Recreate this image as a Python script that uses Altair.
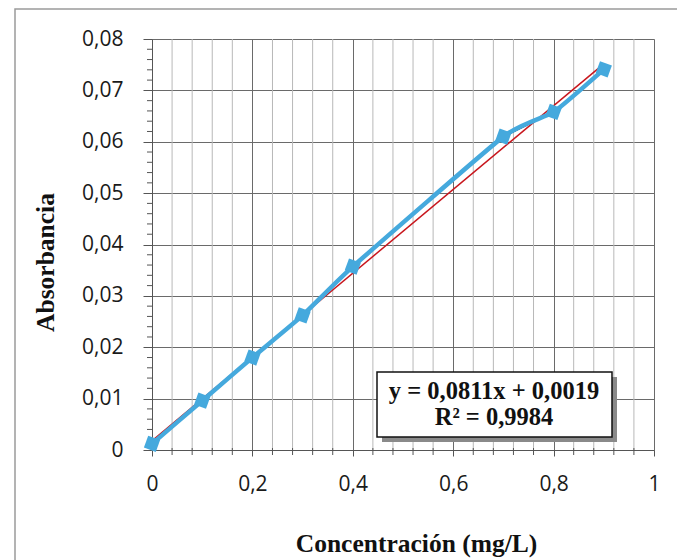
import altair as alt
import pandas as pd

# ---- data ----
conc = [0.0, 0.1, 0.2, 0.3, 0.4, 0.7, 0.8, 0.9]
absorb = [0.0012, 0.0096, 0.0180, 0.0262, 0.0357, 0.0610, 0.0658, 0.0741]

x_major = [0, 0.2, 0.4, 0.6, 0.8, 1.0]
x_minor = [0.04, 0.08, 0.12, 0.16, 0.24, 0.28, 0.32, 0.36, 0.44, 0.48, 0.52, 0.56,
           0.64, 0.68, 0.72, 0.76, 0.84, 0.88, 0.92, 0.96]
y_major = [0, 0.01, 0.02, 0.03, 0.04, 0.05, 0.06, 0.07, 0.08]
y_minor = [0.002, 0.004, 0.006, 0.008, 0.012, 0.014, 0.016, 0.018, 0.022, 0.024, 0.026, 0.028,
           0.032, 0.034, 0.036, 0.038, 0.042, 0.044, 0.046, 0.048, 0.052, 0.054, 0.056, 0.058,
           0.062, 0.064, 0.066, 0.068, 0.072, 0.074, 0.076, 0.078]
eq_lines = ["y = 0,0811x + 0,0019", "R² = 0,9984"]
x_title = "Concentración (mg/L)"
y_title = "Absorbancia"

W, H = 502, 411
BLUE = "#45A9DD"

df = pd.DataFrame({"conc": conc, "abs": absorb})
xs = alt.Scale(domain=[0, 1], nice=False, zero=False)
ys = alt.Scale(domain=[0, 0.08], nice=False)

lab_font = "Open Sans"
title_font = "Liberation Serif"

x_axis = alt.Axis(values=x_major, grid=True, gridColor="#6a6a6a", gridWidth=1,
                  domainColor="#555", tickColor="#555", tickSize=6, labelFlush=False,
                  labelExpr="replace(format(datum.value, '.1~f'), '.', ',')",
                  labelFont=lab_font, labelFontSize=21, labelColor="#1a1a1a", labelPadding=17,
                  title=x_title, titleFont=title_font, titleFontSize=25.5, titleFontWeight="bold",
                  titleColor="#111", titleX=264, titleY=93, titleBaseline="middle",
                  titleAlign="center")
y_axis = alt.Axis(values=y_major, grid=True, gridColor="#6a6a6a", gridWidth=1,
                  domainColor="#555", tickColor="#555", tickSize=9, labelFlush=False,
                  labelExpr="datum.value == 0 ? '0' : replace(format(datum.value, '.2f'), '.', ',')",
                  labelFont=lab_font, labelFontSize=21, labelColor="#1a1a1a", labelPadding=20,
                  title=y_title, titleFont=title_font, titleFontSize=25.5, titleFontWeight="bold",
                  titleColor="#111", titleX=-107, titleY=223, titleBaseline="middle",
                  titleAlign="center", titleAngle=270)


def X(field):
    return alt.X(field, scale=xs, axis=x_axis)


def Y(field):
    return alt.Y(field, scale=ys, axis=y_axis)


one = pd.DataFrame({"a": [0]})

# outer chart border
border = alt.Chart(one).mark_rect(
    fill=None, stroke="#9a9a9a", strokeWidth=1.5
).encode(x=alt.value(15 - 152), x2=alt.value(W + 40), y=alt.value(9 - 39), y2=alt.value(H + 140))

minor_grid = alt.Chart(pd.DataFrame({"conc": x_minor})).mark_rule(
    color="#b8b8b8", strokeWidth=1
).encode(x=X("conc:Q"))

minor_xticks = alt.Chart(pd.DataFrame({"conc": x_minor})).mark_rule(
    color="#555", strokeWidth=1
).encode(x=X("conc:Q"), y=alt.value(H - 2), y2=alt.value(H + 5))

minor_yticks = alt.Chart(pd.DataFrame({"abs": y_minor})).mark_rule(
    color="#555", strokeWidth=1
).encode(y=Y("abs:Q"), x=alt.value(-5), x2=alt.value(0))

black_line = alt.Chart(df).mark_line(color="#222", strokeWidth=1.5).encode(
    x=X("conc:Q"), y=Y("abs:Q"))

blue_line = alt.Chart(df).mark_line(
    color=BLUE, strokeWidth=4.5, interpolate="cardinal", tension=0.5
).encode(x=X("conc:Q"), y=Y("abs:Q"))

trend = alt.Chart(df).transform_regression(
    "conc", "abs", method="linear", extent=[0, 0.9]
).mark_line(color="#C8161D", strokeWidth=1.5).encode(x=X("conc:Q"), y=Y("abs:Q"))

points = alt.Chart(df).mark_point(
    shape="square", filled=True, size=160, color=BLUE, opacity=1, angle=20
).encode(x=X("conc:Q"), y=Y("abs:Q"))

shadow = alt.Chart(one).mark_rect(fill="#8a8a8a").encode(
    x=alt.value(230), x2=alt.value(465), y=alt.value(338), y2=alt.value(403))
box = alt.Chart(one).mark_rect(fill="white", stroke="#111", strokeWidth=1.5).encode(
    x=alt.value(225), x2=alt.value(460), y=alt.value(333), y2=alt.value(398))

eq_style = dict(font=title_font, fontSize=24.5, fontWeight="bold", color="#111",
                align="center", baseline="middle")
eq1 = alt.Chart(one).mark_text(text=eq_lines[0], **eq_style).encode(
    x=alt.value(342), y=alt.value(353))
eq2 = alt.Chart(one).mark_text(text=eq_lines[1], **eq_style).encode(
    x=alt.value(342), y=alt.value(378.5))

chart = alt.layer(
    border, minor_grid, minor_xticks, minor_yticks, black_line, trend, blue_line, points,
    shadow, box, eq1, eq2
).properties(
    width=W, height=H,
    autosize=alt.AutoSizeParams(type="none"),
    padding={"left": 152, "top": 39, "right": 23, "bottom": 110},
).configure_view(stroke="#6a6a6a", strokeWidth=1).configure(background="white")

chart.save("out.html", embed_options={"renderer": "svg", "actions": False})
